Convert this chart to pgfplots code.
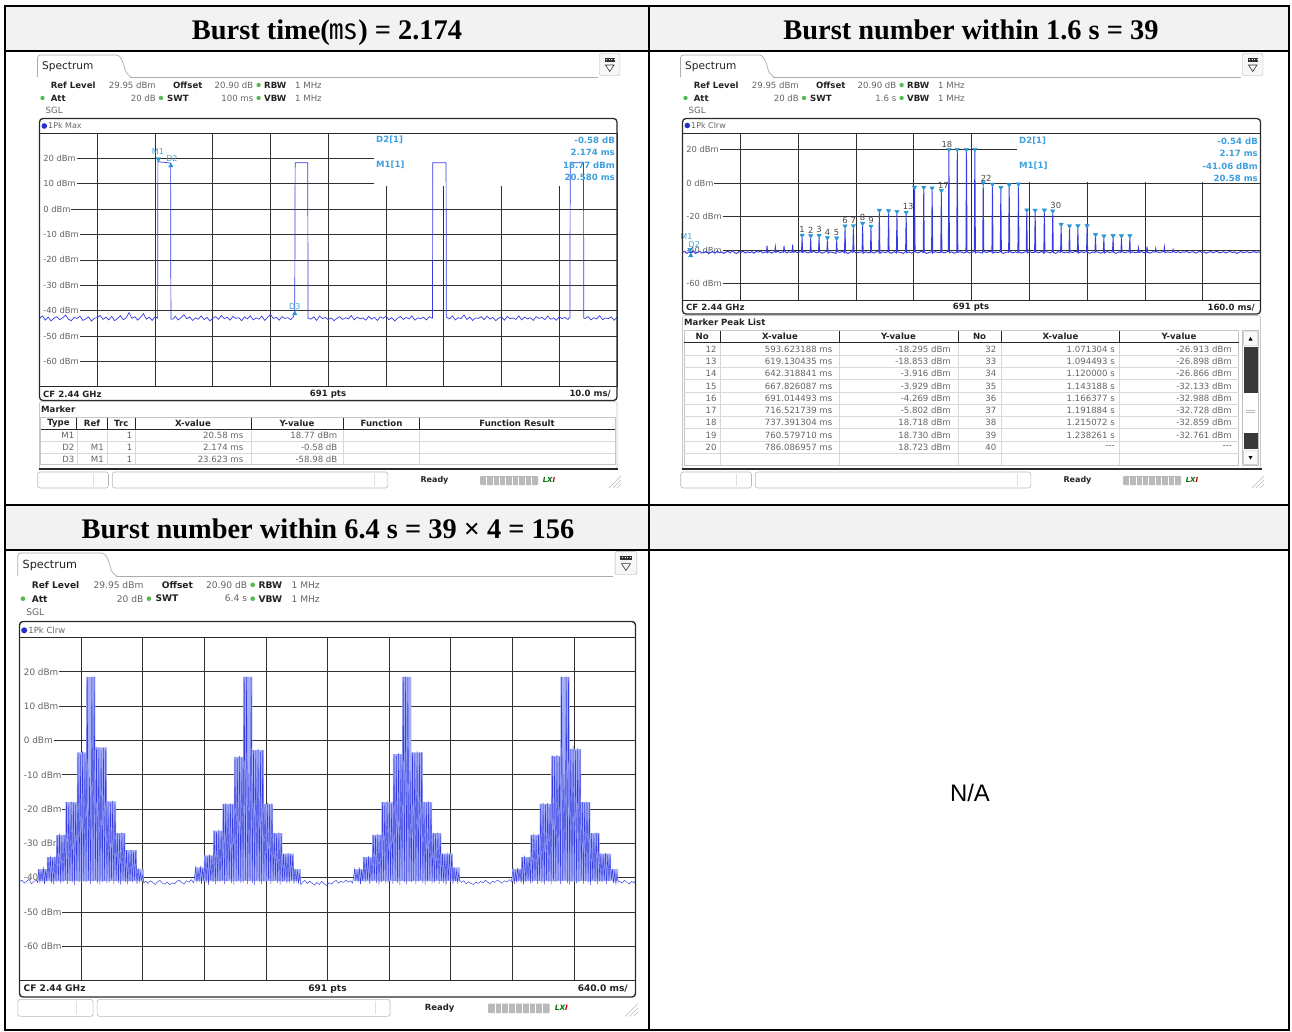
\documentclass[border=0pt]{standalone}
\usepackage{fontspec}
\setmainfont{DejaVu Sans}
\newfontfamily\hdrfont{Liberation Serif}
\newfontfamily\arialfont{Liberation Sans}
\newfontfamily\cjkfont{Noto Sans CJK JP}
\usepackage{pgfplots}
\pgfplotsset{compat=1.18}

\definecolor{tracecol}{RGB}{52,60,226}
\definecolor{markcol}{RGB}{38,150,214}
\definecolor{infocol}{RGB}{62,160,222}
\definecolor{gridcol}{RGB}{48,48,48}
\definecolor{hdrbg}{RGB}{242,242,242}
\definecolor{envcol}{RGB}{166,174,246}
\definecolor{dotgreen}{RGB}{84,186,84}
\definecolor{txtgray}{RGB}{100,100,100}
\definecolor{txtdark}{RGB}{34,34,34}
\definecolor{framecol}{RGB}{42,42,42}
\definecolor{pkdot}{RGB}{36,48,200}

\newcommand\fs[1]{\fontsize{#1}{#1}\selectfont}

\tikzset{
  bl/.style={inner sep=0pt, font=\fs{8.6}\bfseries, text=txtdark},
  rg/.style={inner sep=0pt, font=\fs{8.6}, text=txtgray},
  info/.style={inner sep=0pt, font=\fs{8.6}\bfseries, text=infocol},
  gdot/.style={fill=dotgreen, draw=none},
  ylab/.style={anchor=west, xshift=0.6bp, fill=white, inner xsep=0.8bp, inner ysep=0.7bp,
    font=\fs{8.4}, text=txtgray, execute at begin node={\hspace*{2.2bp}}},
  ylabb/.style={anchor=west, xshift=0.6bp, fill=white, inner xsep=0.9bp, inner ysep=0.8bp,
    font=\fs{8.9}, text=txtgray, execute at begin node={\hspace*{2.7bp}}},
  mlab/.style={inner sep=0pt, font=\fs{8}, text=infocol},
  pklab/.style={inner sep=0pt, font=\fs{8.4}, text=txtgray!70!black, anchor=south, yshift=4.8bp},
  hdr/.style={anchor=base, font=\hdrfont\fs{28.5}\bfseries},
}

\pgfplotsset{
  screen/.style={scale only axis, anchor=south west,
    axis line style={draw=none}, tick style={draw=none},
    xticklabels={}, yticklabels={},
    grid=major, grid style={gridcol, line width=0.75bp},
    clip=false, ymin=-70.05, ymax=29.95},
}

% instrument header: tab, softkey icon and setting lines
\newcommand\panelhead[1]{%
  \draw[gray!65, line width=0.7bp, rounded corners=3bp, fill=white]
    (37.5,77) -- (37.5,55) -- (119,55) -- (123,62) -- (126,73) -- (131,77);
  \draw[gray!65, line width=0.7bp] (130,77) -- (598,77);
  \node[anchor=west, inner sep=0pt, font=\fs{10.6}, text=txtdark] at (42,67) {Spectrum};
  \draw[gray!60, rounded corners=2bp, fill=gray!6] (599.5,53.5) rectangle (620,75.5);
  \fill[gray!40!black] (604.5,57.5) rectangle (615,61.5);
  \foreach \u in {606,608.5,611,613.5}{\fill[white] (\u,59) rectangle ++(1,1);}
  \draw[gray!40!black, line width=0.6bp] (605.5,65) -- (614,65) -- (609.75,71.5) -- cycle;
  \node[bl, anchor=west] at (50.6,85) {Ref Level};
  \node[rg, anchor=east] at (156,85) {29.95 dBm};
  \node[bl, anchor=west] at (173,85) {Offset};
  \node[rg, anchor=east] at (253.5,85) {20.90 dB};
  \fill[gdot] (258.6,85) circle (2.2bp);
  \node[bl, anchor=west] at (264,85) {RBW};
  \node[rg, anchor=west] at (295,85) {1 MHz};
  \fill[gdot] (42.5,98) circle (2.2bp);
  \node[bl, anchor=west] at (50.6,98) {Att};
  \node[rg, anchor=east] at (156,98) {20 dB};
  \fill[gdot] (161,98) circle (2.2bp);
  \node[bl, anchor=west] at (167,98) {SWT};
  \node[rg, anchor=east] at (253.5,98) {#1};
  \fill[gdot] (258.6,98) circle (2.2bp);
  \node[bl, anchor=west] at (264,98) {VBW};
  \node[rg, anchor=west] at (295,98) {1 MHz};
  \node[rg, anchor=west] at (45.5,110.5) {SGL};
}

% status line below each window
\newcommand\statusbar{%
  \draw[gray!55, line width=0.6bp, rounded corners=2.5bp] (37.7,472) rectangle (108.5,488);
  \draw[gray!25] (93,474) -- (93,486);
  \draw[gray!55, line width=0.6bp, rounded corners=2.5bp] (112.3,472) rectangle (387.8,488);
  \draw[gray!25] (374,474) -- (374,486);
  \node[bl, font=\fs{8}\bfseries] at (434.5,480) {Ready};
  \fill[gray!55, rounded corners=1bp] (480,476) rectangle (538,485);
  \foreach \u in {486.4,492.8,499.2,505.6,512,518.4,524.8,531.2}{\draw[white, line width=0.5bp] (\u,476.5) -- (\u,484.5);}
  \node[inner sep=0pt, font=\fs{7}\bfseries\itshape, text=green!45!black] at (549,480) {LX\textcolor{red!70!black}{I}};
  \foreach \d in {4,8,12}{\draw[gray!55, line width=0.6bp] (621-\d,488) -- (621,488-\d);}
}

\begin{document}
\begin{tikzpicture}
\useasboundingbox (0bp,0bp) rectangle (1292bp,-1032bp);

\begin{scope}[x=1bp,y=-1bp]
  \fill[hdrbg] (5,6) rectangle (1289,51);
  \fill[hdrbg] (5,505) rectangle (1289,550);
  \node[hdr] at (327,39.5) {Burst time({\mdseries\cjkfont ㎳}) = 2.174};
  \node[hdr] at (971,39.5) {Burst number within 1.6 s = 39};
  \node[hdr] at (328,538.5) {Burst number within 6.4 s = 39 × 4 = 156};
  \node[font=\arialfont\fs{24}] at (970,793) {N/A};
  \panelhead{100 ms}
  \begin{scope}[xshift=643bp]\panelhead{1.6 s}\end{scope}
  \begin{scope}[shift={(-22.2bp,-494.5bp)}, scale=1.063, every node/.append style={transform shape}]\panelhead{6.4 s}\end{scope}
\end{scope}

% ---------- sweep 100 ms ----------
\begin{axis}[screen, at={(39.5bp,-386.7bp)}, width=577.5bp, height=253.4bp,
  xmin=0, xmax=100, xtick={0,10,...,100}, ytick={-60,-50,...,20}]
  \fill[white] (axis cs:58,9.2) rectangle (axis cs:100,29.95);
  \node[ylab] at (axis cs:0,20) {20 dBm};
  \node[ylab] at (axis cs:0,10) {10 dBm};
  \node[ylab] at (axis cs:0,0) {0 dBm};
  \node[ylab] at (axis cs:0,-10) {-10 dBm};
  \node[ylab] at (axis cs:0,-20) {-20 dBm};
  \node[ylab] at (axis cs:0,-30) {-30 dBm};
  \node[ylab] at (axis cs:0,-40) {-40 dBm};
  \node[ylab] at (axis cs:0,-50) {-50 dBm};
  \node[ylab] at (axis cs:0,-60) {-60 dBm};
  \addplot[draw=tracecol, line width=0.7bp] coordinates {
  (0,-43.2) (0.5,-42.1) (1,-43.8) (1.5,-42.6) (2,-44.1) (2.5,-43.0) (3,-42.4) (3.5,-43.6) (4,-42.9) (4.5,-41.8)
  (5,-43.4) (5.5,-44.0) (6,-42.7) (6.5,-43.1) (7,-42.2) (7.5,-43.9) (8,-43.3) (8.5,-42.5) (9,-44.2) (9.5,-43.0)
  (10,-42.8) (10.5,-41.9) (11,-43.5) (11.5,-42.6) (12,-43.7) (12.5,-42.3) (13,-44.0) (13.5,-43.2) (14,-42.0) (14.5,-43.6)
  (15,-42.9) (15.5,-40.8) (16,-43.1) (16.5,-42.4) (17,-43.8) (17.5,-42.7) (18,-41.2) (18.5,-43.4) (19,-42.6) (19.5,-43.9)
  (20,-42.5) (20.45,-43.0) (20.5,18.77) (21.6,18.5) (22.7,18.19) (22.76,-43.4)
  (23.2,-43.3) (23.5,-42.2) (24,-43.7) (24.5,-42.8) (25,-41.6) (25.5,-43.2) (26,-42.5) (26.5,-43.9) (27,-42.9) (27.5,-43.4)
  (28,-42.1) (28.5,-43.6) (29,-42.7) (29.5,-44.1) (30,-43.0) (30.5,-42.4) (31,-43.5) (31.5,-41.9) (32,-43.2) (32.5,-42.6)
  (33,-43.8) (33.5,-42.3) (34,-43.1) (34.5,-42.8) (35,-44.0) (35.5,-42.5) (36,-43.3) (36.5,-42.0) (37,-43.7) (37.5,-42.9)
  (38,-43.4) (38.5,-42.2) (39,-43.9) (39.5,-42.7) (40,-41.5) (40.5,-43.2) (41,-42.6) (41.5,-43.8) (42,-42.4) (42.5,-43.1)
  (43,-42.8) (43.5,-43.6) (44.0,-42.3) (44.2,-40.2) (44.27,18.3) (46.45,18.3) (46.5,-43.0)
  (47,-43.4) (47.5,-42.5) (48,-43.9) (48.5,-42.1) (49,-43.2) (49.5,-42.7) (50,-43.6) (50.5,-42.9) (51,-44.0) (51.5,-43.1)
  (52,-42.4) (52.5,-43.5) (53,-42.8) (53.5,-43.3) (54,-42.0) (54.5,-43.7) (55,-42.6) (55.5,-43.2) (56,-42.9) (56.5,-43.8)
  (57,-42.3) (57.5,-43.4) (58,-42.7) (58.5,-43.9) (59,-42.5) (59.5,-43.1) (60,-42.2) (60.5,-43.6) (61,-42.8) (61.5,-44.1)
  (62,-43.0) (62.5,-42.4) (63,-43.5) (63.5,-42.7) (64,-43.3) (64.5,-42.1) (65,-43.8) (65.5,-42.9) (66,-43.2) (66.5,-42.6)
  (67,-43.7) (67.5,-42.4) (68.0,-43.1) (68.05,-42.9) (68.1,18.3) (70.4,18.3) (70.45,-42.6)
  (71,-43.3) (71.5,-42.1) (72,-43.7) (72.5,-42.8) (73,-43.2) (73.5,-41.7) (74,-43.5) (74.5,-42.6) (75,-43.9) (75.5,-42.9)
  (76,-43.1) (76.5,-42.4) (77,-43.6) (77.5,-42.2) (78,-43.4) (78.5,-42.7) (79,-44.0) (79.5,-43.0) (80,-42.5) (80.5,-43.8)
  (81,-42.3) (81.5,-43.2) (82,-42.9) (82.5,-43.5) (83,-42.1) (83.5,-43.7) (84,-42.6) (84.5,-43.3) (85,-42.8) (85.5,-43.9)
  (86,-42.4) (86.5,-43.1) (87,-42.7) (87.5,-43.6) (88,-42.2) (88.5,-43.4) (89,-42.9) (89.5,-43.8) (90,-42.5) (90.5,-43.2)
  (91,-42.7) (91.5,-43.5) (91.85,-42.6) (91.9,18.3) (94.2,18.3) (94.25,-43.0)
  (94.5,-43.1) (95,-42.4) (95.5,-43.7) (96,-42.8) (96.5,-43.3) (97,-42.0) (97.5,-43.6) (98,-42.9) (98.5,-43.2) (99,-42.5)
  (99.5,-43.8) (100,-42.7)};
  % M1 (down), D2 and D3 (up)
  \addplot[only marks, mark=triangle*, mark size=2.6bp, color=markcol,
    mark options={yshift=2.6bp, rotate=180, fill=markcol}] coordinates {(20.58,18.77)};
  \addplot[only marks, mark=triangle*, mark size=2.6bp, color=markcol,
    mark options={yshift=-2.6bp, fill=markcol}] coordinates {(22.754,18.19) (44.203,-40.21)};
  \node[mlab, anchor=south] at (axis cs:20.58,18.77) [yshift=7bp, xshift=-0.5bp] {M1};
  \node[mlab, anchor=south] at (axis cs:22.754,18.19) [yshift=1.5bp, xshift=1bp] {D2};
  \node[mlab, anchor=south] at (axis cs:44.203,-40.21) [yshift=1.5bp] {D3};
\end{axis}

% ---------- sweep 1.6 s ----------
\begin{axis}[screen, at={(682.5bp,-300.7bp)}, width=578bp, height=167.5bp,
  xmin=0, xmax=1600, xtick={0,160,...,1600}, ytick={-60,-40,...,20}]
  \fill[white] (axis cs:926,0.8) rectangle (axis cs:1600,29.95);
  \node[ylab] at (axis cs:0,20) {20 dBm};
  \node[ylab] at (axis cs:0,0) {0 dBm};
  \node[ylab] at (axis cs:0,-20) {-20 dBm};
  \node[ylab] at (axis cs:0,-40) {-40 dBm};
  \node[ylab] at (axis cs:0,-60) {-60 dBm};
  \addplot[draw=tracecol, line width=0.95bp] coordinates {
  (0,-41.2) (6,-40.6) (12,-41.8) (18,-40.9) (24,-41.5) (30,-40.3) (36,-41.9) (42,-41.0) (48,-40.7) (54,-41.6)
  (60,-41.3) (66,-40.5) (72,-42.0) (78,-41.1) (84,-40.8) (90,-41.7) (96,-40.4) (102,-41.4) (108,-40.9) (114,-41.8)
  (120,-41.0) (126,-40.6) (132,-41.5) (138,-40.2) (144,-41.3) (150,-41.9) (156,-40.7) (162,-41.2) (168,-40.5) (174,-41.6)
  (180,-40.9) (186,-41.4) (192,-40.8) (198,-41.7) (204,-40.6) (210,-41.1) (216,-40.4) (222,-41.5) (228,-41.0)
  (232.5,-41.0) (234,-37.2) (235.5,-41.3) (240,-40.7) (246,-41.6) (252,-41.0)
  (255.5,-40.8) (257,-38.0) (258.5,-41.2) (264,-40.5) (270,-41.4) (276,-40.9)
  (279.5,-41.1) (281,-37.4) (282.5,-40.6) (288,-41.5) (294,-40.8) (300,-41.2)
  (303.5,-40.9) (305,-36.6) (306.5,-41.3) (312,-40.6) (318,-41.4) (324,-40.9)
  (329.5,-41.0) (331.0,-32.5) (332.5,-41.2) (339,-40.7) (347,-41.5)
  (353.3,-40.9) (354.8,-32.8) (356.3,-41.3) (363,-40.6) (371,-41.4)
  (376.5,-41.1) (378.0,-32.6) (379.5,-40.8) (386,-41.7) (394,-41.0)
  (399.7,-40.5) (401.2,-34.0) (402.7,-41.6) (409,-40.9) (417,-41.3)
  (425.2,-41.8) (426.7,-34.2) (428.2,-40.7) (435,-41.2) (443,-40.6)
  (448.4,-41.4) (449.9,-27.0) (451.4,-41.0) (458,-41.9) (466,-40.8)
  (471.5,-41.2) (473.0,-26.8) (474.5,-40.6) (481,-41.5) (490,-41.1)
  (497.1,-40.9) (498.6,-25.4) (500.1,-41.7) (507,-40.8) (514,-41.4)
  (520.2,-41.3) (521.7,-27.1) (523.2,-40.9) (530,-41.6) (537,-40.7)
  (543.4,-41.0) (544.9,-17.6) (546.4,-41.8) (553,-40.9) (562,-41.3)
  (568.9,-40.6) (570.4,-17.9) (571.9,-41.2) (578,-41.7) (586,-40.8)
  (592.1,-41.5) (593.623,-18.295) (595.1,-40.9) (603,-41.2) (611,-41.8)
  (617.6,-40.7) (619.130,-18.853) (620.6,-41.4) (627,-40.9) (634,-41.6)
  (640.8,-41.1) (642.319,-3.916) (643.8,-40.8) (652,-41.5) (660,-40.6)
  (666.3,-41.3) (667.826,-3.929) (669.3,-41.0) (675,-41.8) (683,-41.2)
  (689.5,-40.9) (691.014,-4.269) (692.5,-41.6) (700,-40.7) (708,-41.3)
  (715.0,-41.2) (716.522,-5.802) (718.0,-40.8) (724,-41.5) (730,-41.0)
  (735.9,-40.6) (737.391,18.718) (738.9,-41.4) (745,-40.9) (752,-41.7)
  (759.1,-41.0) (760.580,18.730) (762.1,-41.2) (770,-40.8) (778,-41.5)
  (784.6,-41.3) (786.087,18.723) (787.6,-40.7) (794,-41.6) (801,-41.1)
  (807.8,-40.8) (809.3,18.7) (810.8,-41.5) (817,-40.9) (824,-41.3)
  (831.0,-41.6) (832.5,-1.2) (834.0,-40.8) (842,-41.2) (850,-40.6)
  (856.5,-41.0) (858.0,-2.0) (859.5,-41.7) (866,-40.9) (873,-41.4)
  (879.7,-40.7) (881.2,-4.0) (882.7,-41.3) (889,-41.8) (896,-41.0)
  (902.8,-41.2) (904.3,-2.4) (905.8,-40.6) (914,-41.5) (922,-40.9)
  (928.4,-41.4) (929.9,-1.9) (931.4,-40.9) (938,-41.6) (945,-41.1)
  (951.5,-40.8) (953.0,-17.4) (954.5,-41.5) (961,-40.7) (968,-41.3)
  (974.7,-41.1) (976.2,-17.6) (977.7,-40.8) (986,-41.4) (994,-40.6)
  (1000.2,-41.7) (1001.7,-17.5) (1003.2,-41.0) (1010,-40.9) (1017,-41.5)
  (1023.4,-40.9) (1024.9,-18.0) (1026.4,-41.3) (1033,-41.8) (1040,-40.8)
  (1046.6,-41.2) (1048.1,-26.0) (1049.6,-40.7) (1056,-41.4) (1063,-41.0)
  (1069.8,-41.5) (1071.304,-26.913) (1072.8,-40.9) (1080,-41.2) (1088,-40.6)
  (1093.0,-41.0) (1094.493,-26.898) (1096.0,-41.6) (1104,-40.8) (1112,-41.3)
  (1118.5,-40.7) (1120.000,-26.866) (1121.5,-41.2) (1128,-41.7) (1135,-40.9)
  (1141.7,-41.4) (1143.188,-32.133) (1144.7,-40.8) (1151,-41.1) (1158,-41.6)
  (1164.9,-41.0) (1166.377,-32.988) (1167.9,-41.5) (1175,-40.7) (1183,-41.3)
  (1190.4,-40.8) (1191.884,-32.728) (1193.4,-41.2) (1200,-41.8) (1207,-40.9)
  (1213.6,-41.3) (1215.072,-32.859) (1216.6,-40.6) (1223,-41.4) (1230,-41.0)
  (1236.8,-40.9) (1238.261,-32.761) (1239.8,-41.5) (1246,-40.8) (1254,-41.4)
  (1260.5,-41.0) (1262,-38.6) (1263.5,-41.3) (1271,-40.7) (1278,-41.5)
  (1284.5,-40.9) (1286,-37.8) (1287.5,-41.2) (1295,-41.6) (1302,-40.8)
  (1308.5,-41.1) (1310,-39.0) (1311.5,-40.7) (1319,-41.3) (1326,-41.0)
  (1332.5,-40.6) (1334,-38.2) (1335.5,-41.4) (1343,-40.9) (1350,-41.2)
  (1356.5,-41.0) (1358,-39.5) (1359.5,-40.8)
  (1366,-41.3) (1372,-40.7) (1378,-41.5) (1384,-40.9) (1390,-41.1) (1396,-40.6) (1402,-41.4) (1408,-41.0) (1414,-40.8) (1420,-41.6)
  (1426,-41.2) (1432,-40.5) (1438,-41.3) (1444,-40.9) (1450,-41.7) (1456,-41.1) (1462,-40.7) (1468,-41.4) (1474,-41.0) (1480,-40.6)
  (1486,-41.5) (1492,-41.2) (1498,-40.8) (1504,-41.6) (1510,-41.0) (1516,-40.7) (1522,-41.3) (1528,-40.9) (1534,-41.8) (1540,-41.2)
  (1546,-40.6) (1552,-41.4) (1558,-41.0) (1564,-40.8) (1570,-41.5) (1576,-41.1) (1582,-40.7) (1588,-41.3) (1594,-40.9) (1600,-41.2)};
  % peak list markers
  \addplot[only marks, mark=triangle*, mark size=2.5bp, color=markcol,
    mark options={yshift=2.5bp, rotate=180, fill=markcol}] coordinates {
  (331.0,-32.5) (354.8,-32.8) (378.0,-32.6) (401.2,-34.0) (426.7,-34.2) (449.9,-27.0) (473.0,-26.8) (498.6,-25.4)
  (521.7,-27.1) (544.9,-17.6) (570.4,-17.9) (593.623,-18.295) (619.130,-18.853) (642.319,-3.916) (667.826,-3.929)
  (691.014,-4.269) (716.522,-5.802) (737.391,18.718) (760.580,18.730) (786.087,18.723) (809.3,18.7) (832.5,-1.2)
  (858.0,-2.0) (881.2,-4.0) (904.3,-2.4) (929.9,-1.9) (953.0,-17.4) (976.2,-17.6) (1001.7,-17.5) (1024.9,-18.0)
  (1048.1,-26.0) (1071.304,-26.913) (1094.493,-26.898) (1120.000,-26.866) (1143.188,-32.133) (1166.377,-32.988)
  (1191.884,-32.728) (1215.072,-32.859) (1238.261,-32.761)};
  \addplot[only marks, mark=triangle*, mark size=2.5bp, color=markcol,
    mark options={yshift=2.5bp, rotate=180, fill=markcol}] coordinates {(20.58,-41.06)};
  \addplot[only marks, mark=triangle*, mark size=2.5bp, color=markcol,
    mark options={yshift=-2.5bp, fill=markcol}] coordinates {(22.75,-41.60)};
  \node[mlab, anchor=south] at (axis cs:20.58,-41.06) [yshift=12bp, xshift=-3.5bp] {M1};
  \node[mlab, anchor=south] at (axis cs:22.75,-41.60) [yshift=5.5bp, xshift=3.5bp] {D2};
  \node[pklab] at (axis cs:331.0,-32.5) {1};
  \node[pklab] at (axis cs:354.8,-32.8) {2};
  \node[pklab] at (axis cs:378.0,-32.6) {3};
  \node[pklab] at (axis cs:401.2,-34.0) {4};
  \node[pklab] at (axis cs:426.7,-34.2) {5};
  \node[pklab] at (axis cs:449.9,-27.0) {6};
  \node[pklab] at (axis cs:473.0,-26.8) {7};
  \node[pklab] at (axis cs:498.6,-25.4) {8};
  \node[pklab] at (axis cs:521.7,-27.1) {9};
  \node[pklab] at (axis cs:619.130,-18.853) [xshift=2bp] {13};
  \node[pklab] at (axis cs:716.522,-5.802) [xshift=2bp] {17};
  \node[pklab] at (axis cs:737.391,18.718) [xshift=-2bp, yshift=-1bp] {18};
  \node[pklab] at (axis cs:832.5,-1.2) [xshift=3bp, yshift=-1.5bp] {22};
  \node[pklab] at (axis cs:1024.9,-18.0) [xshift=3bp] {30};
\end{axis}

% ---------- sweep 6.4 s ----------
\begin{axis}[screen, at={(19.5bp,-980.7bp)}, width=616bp, height=343bp,
  xmin=0, xmax=6400, xtick={0,640,...,6400}, ytick={-60,-50,...,20}]
  \node[ylabb] at (axis cs:0,20) {20 dBm};
  \node[ylabb] at (axis cs:0,10) {10 dBm};
  \node[ylabb] at (axis cs:0,0) {0 dBm};
  \node[ylabb] at (axis cs:0,-10) {-10 dBm};
  \node[ylabb] at (axis cs:0,-20) {-20 dBm};
  \node[ylabb] at (axis cs:0,-30) {-30 dBm};
  \node[ylabb] at (axis cs:0,-40) {-40 dBm};
  \node[ylabb] at (axis cs:0,-50) {-50 dBm};
  \node[ylabb] at (axis cs:0,-60) {-60 dBm};
  % burst group envelopes
  \addplot[fill=envcol, draw=none] coordinates {
  (190,-41) (190,-37.5) (284,-37.5) (284,-34) (380,-34) (380,-27.5) (476,-27.5) (476,-18) (596,-18) (596,-3.5)
  (692,-3.5) (692,18.5) (788,18.5) (788,-2) (908,-2) (908,-17.8) (1004,-17.8) (1004,-27) (1100,-27) (1100,-32)
  (1220,-32) (1220,-37.5) (1292,-37.5) (1292,-41)};
  \addplot[fill=envcol, draw=none] coordinates {
  (1821,-41) (1821,-37) (1915,-37) (1915,-33.5) (2011,-33.5) (2011,-26.3) (2107,-26.3) (2107,-18.5) (2227,-18.5) (2227,-4.8)
  (2323,-4.8) (2323,18.5) (2419,18.5) (2419,-2.8) (2539,-2.8) (2539,-18.5) (2635,-18.5) (2635,-27) (2731,-27) (2731,-33)
  (2851,-33) (2851,-37.5) (2923,-37.5) (2923,-41)};
  \addplot[fill=envcol, draw=none] coordinates {
  (3473,-41) (3473,-37.5) (3567,-37.5) (3567,-34) (3663,-34) (3663,-27.5) (3759,-27.5) (3759,-18) (3879,-18) (3879,-4)
  (3975,-4) (3975,18.5) (4071,18.5) (4071,-3.5) (4191,-3.5) (4191,-18) (4287,-18) (4287,-27) (4383,-27) (4383,-33)
  (4503,-33) (4503,-37) (4575,-37) (4575,-41)};
  \addplot[fill=envcol, draw=none] coordinates {
  (5118,-41) (5118,-37.5) (5212,-37.5) (5212,-34) (5308,-34) (5308,-27.5) (5404,-27.5) (5404,-18.5) (5524,-18.5) (5524,-4.5)
  (5620,-4.5) (5620,18.5) (5716,18.5) (5716,-2.5) (5836,-2.5) (5836,-18) (5932,-18) (5932,-27) (6028,-27) (6028,-33)
  (6148,-33) (6148,-37.5) (6220,-37.5) (6220,-41)};
  \addplot[draw=tracecol, line width=0.45bp] coordinates {
  (0,-41.2) (25,-40.7) (50,-41.6) (75,-41.0) (100,-40.5) (125,-41.8) (150,-41.1) (175,-40.8) (188,-41.4)
  (200,-37.6) (212,-41.3) (224,-38.3) (236,-40.8) (248,-36.9) (260,-41.9) (272,-37.8) (284,-41.1)
  (296,-34.0) (308,-40.6) (320,-33.6) (332,-41.6) (344,-34.3) (356,-42.0) (368,-33.8) (380,-41.2)
  (392,-27.6) (404,-40.9) (416,-27.2) (428,-41.7) (440,-27.9) (452,-41.4) (464,-27.5) (476,-40.7)
  (488,-18.0) (500,-41.8) (512,-18.4) (524,-41.0) (536,-17.8) (548,-41.5) (560,-18.2) (572,-42.1) (584,-18.6) (596,-40.8)
  (608,-3.6) (620,-41.3) (632,-4.1) (644,-41.9) (656,-3.2) (668,-41.1) (680,-3.9) (692,-41.3)
  (704,18.5) (716,-40.8) (728,-10.8) (740,-41.9) (752,18.5) (764,-41.1) (776,18.6) (788,-40.6)
  (800,-1.9) (812,-41.6) (824,-2.3) (836,-42.0) (848,-3.0) (860,-41.2) (872,-2.2) (884,-40.9) (896,-2.6) (908,-41.7)
  (920,-17.8) (932,-41.4) (944,-18.1) (956,-40.7) (968,-17.6) (980,-41.8) (992,-18.3) (1004,-41.0)
  (1016,-27.0) (1028,-41.5) (1040,-27.3) (1052,-42.1) (1064,-26.8) (1076,-40.8) (1088,-27.1) (1100,-41.3)
  (1112,-32.0) (1124,-41.9) (1136,-32.4) (1148,-41.1) (1160,-31.9) (1172,-41.3) (1184,-32.6) (1196,-40.8) (1208,-32.2) (1220,-41.9)
  (1232,-37.2) (1244,-41.1) (1256,-38.6) (1268,-40.6) (1280,-39.3) (1292,-41.6)
  (1310,-41.0) (1335,-41.7) (1360,-40.9) (1385,-41.4) (1410,-42.0) (1435,-41.2) (1460,-40.8) (1485,-41.6) (1510,-41.9) (1535,-41.3)
  (1560,-42.1) (1585,-41.5) (1610,-41.8) (1635,-41.1) (1660,-40.7) (1685,-41.4) (1710,-41.9) (1735,-40.9) (1760,-41.3) (1785,-40.6) (1810,-41.5)
  (1831,-37.0) (1843,-41.4) (1855,-38.1) (1867,-40.7) (1879,-36.6) (1891,-41.8) (1903,-37.4) (1915,-41.0)
  (1927,-33.5) (1939,-41.5) (1951,-33.9) (1963,-42.1) (1975,-33.2) (1987,-40.8) (1999,-33.7) (2011,-41.3)
  (2023,-26.3) (2035,-41.9) (2047,-26.7) (2059,-41.1) (2071,-26.0) (2083,-41.3) (2095,-26.5) (2107,-40.8)
  (2119,-18.5) (2131,-41.9) (2143,-18.2) (2155,-41.1) (2167,-18.8) (2179,-40.6) (2191,-18.4) (2203,-41.6) (2215,-18.7) (2227,-42.0)
  (2239,-4.8) (2251,-41.2) (2263,-5.2) (2275,-40.9) (2287,-4.5) (2299,-41.7) (2311,-5.0) (2323,-41.4)
  (2335,18.5) (2347,-40.7) (2359,18.6) (2371,-41.8) (2383,-9.6) (2395,-41.0) (2407,18.5) (2419,-41.5)
  (2431,-2.8) (2443,-42.1) (2455,-3.1) (2467,-40.8) (2479,-2.5) (2491,-41.3) (2503,-3.4) (2515,-41.9) (2527,-2.9) (2539,-41.1)
  (2551,-18.5) (2563,-41.3) (2575,-18.2) (2587,-40.8) (2599,-18.8) (2611,-41.9) (2623,-18.4) (2635,-41.1)
  (2647,-27.0) (2659,-40.6) (2671,-27.4) (2683,-41.6) (2695,-26.8) (2707,-42.0) (2719,-27.2) (2731,-41.2)
  (2743,-33.0) (2755,-40.9) (2767,-33.4) (2779,-41.7) (2791,-32.8) (2803,-41.4) (2815,-33.2) (2827,-40.7) (2839,-33.5) (2851,-41.8)
  (2863,-37.5) (2875,-41.0) (2887,-38.2) (2899,-41.5) (2911,-39.0) (2923,-42.1)
  (2940,-41.3) (2965,-40.8) (2990,-41.7) (3015,-41.0) (3040,-41.6) (3065,-42.2) (3090,-41.4) (3115,-42.0) (3140,-41.1) (3165,-41.8)
  (3190,-42.3) (3215,-41.5) (3240,-41.9) (3265,-41.2) (3290,-40.8) (3315,-41.6) (3340,-41.0) (3365,-41.4) (3390,-40.7) (3415,-41.3) (3440,-40.9) (3460,-41.6)
  (3483,-37.5) (3495,-40.8) (3507,-38.4) (3519,-41.3) (3531,-37.0) (3543,-41.9) (3555,-37.8) (3567,-41.1)
  (3579,-34.0) (3591,-41.3) (3603,-34.4) (3615,-40.8) (3627,-33.7) (3639,-41.9) (3651,-34.2) (3663,-41.1)
  (3675,-27.5) (3687,-40.6) (3699,-27.9) (3711,-41.6) (3723,-27.2) (3735,-42.0) (3747,-27.6) (3759,-41.2)
  (3771,-18.0) (3783,-40.9) (3795,-18.3) (3807,-41.7) (3819,-17.7) (3831,-41.4) (3843,-18.2) (3855,-40.7) (3867,-18.5) (3879,-41.8)
  (3891,-4.0) (3903,-41.0) (3915,-4.4) (3927,-41.5) (3939,-3.7) (3951,-42.1) (3963,-4.2) (3975,-40.8)
  (3987,18.5) (3999,-41.3) (4011,18.6) (4023,-41.9) (4035,18.5) (4047,-41.1) (4059,-8.9) (4071,-41.3)
  (4083,-3.5) (4095,-40.8) (4107,-3.8) (4119,-41.9) (4131,-3.2) (4143,-41.1) (4155,-3.6) (4167,-40.6) (4179,-3.4) (4191,-41.6)
  (4203,-18.0) (4215,-42.0) (4227,-18.3) (4239,-41.2) (4251,-17.8) (4263,-40.9) (4275,-18.2) (4287,-41.7)
  (4299,-27.0) (4311,-41.4) (4323,-27.3) (4335,-40.7) (4347,-26.8) (4359,-41.8) (4371,-27.2) (4383,-41.0)
  (4395,-33.0) (4407,-41.5) (4419,-33.3) (4431,-42.1) (4443,-32.7) (4455,-40.8) (4467,-33.1) (4479,-41.3) (4491,-33.4) (4503,-41.9)
  (4515,-37.0) (4527,-41.1) (4539,-38.0) (4551,-41.3) (4563,-38.8) (4575,-40.8)
  (4590,-41.4) (4615,-40.9) (4640,-41.8) (4665,-41.2) (4690,-41.6) (4715,-42.0) (4740,-41.3) (4765,-41.7) (4790,-41.1) (4815,-41.5)
  (4840,-40.8) (4865,-41.3) (4890,-41.9) (4915,-41.0) (4940,-41.4) (4965,-40.7) (4990,-41.2) (5015,-41.6) (5040,-40.9) (5065,-41.3) (5090,-40.6) (5110,-41.2)
  (5128,-37.6) (5140,-41.9) (5152,-38.3) (5164,-41.1) (5176,-37.1) (5188,-40.6) (5200,-37.9) (5212,-41.6)
  (5224,-34.0) (5236,-42.0) (5248,-33.6) (5260,-41.2) (5272,-34.3) (5284,-40.9) (5296,-33.9) (5308,-41.7)
  (5320,-27.5) (5332,-41.4) (5344,-27.1) (5356,-40.7) (5368,-27.8) (5380,-41.8) (5392,-27.4) (5404,-41.0)
  (5416,-18.5) (5428,-41.5) (5440,-18.2) (5452,-42.1) (5464,-18.7) (5476,-40.8) (5488,-18.3) (5500,-41.3) (5512,-18.6) (5524,-41.9)
  (5536,-4.5) (5548,-41.1) (5560,-4.9) (5572,-41.3) (5584,-4.2) (5596,-40.8) (5608,-4.7) (5620,-41.9)
  (5632,18.5) (5644,-41.1) (5656,-9.8) (5668,-40.6) (5680,18.6) (5692,-41.6) (5704,18.5) (5716,-42.0)
  (5728,-2.5) (5740,-41.2) (5752,-1.5) (5764,-40.9) (5776,-2.9) (5788,-41.7) (5800,-2.2) (5812,-41.4) (5824,-2.7) (5836,-40.7)
  (5848,-18.0) (5860,-41.8) (5872,-18.3) (5884,-41.0) (5896,-17.7) (5908,-41.5) (5920,-18.2) (5932,-42.1)
  (5944,-27.0) (5956,-40.8) (5968,-27.4) (5980,-41.3) (5992,-26.8) (6004,-41.9) (6016,-27.2) (6028,-41.1)
  (6040,-33.0) (6052,-41.3) (6064,-33.3) (6076,-40.8) (6088,-32.8) (6100,-41.9) (6112,-33.2) (6124,-41.1) (6136,-33.5) (6148,-40.6)
  (6160,-37.5) (6172,-41.6) (6184,-38.2) (6196,-42.0) (6208,-38.9) (6220,-41.2)
  (6235,-41.0) (6260,-41.6) (6285,-40.8) (6310,-41.3) (6335,-41.9) (6360,-41.1) (6385,-41.5) (6400,-40.9)};
\end{axis}

\begin{scope}[x=1bp,y=-1bp]
  % outer table rules
  \draw[line width=1.8bp] (5,6) rectangle (1289,1030);
  \draw[line width=1.8bp] (5,51) -- (1289,51) (5,505) -- (1289,505) (5,550) -- (1289,550) (649,6) -- (649,1030);

  % window frames
  \draw[framecol, line width=1.3bp, rounded corners=3.5bp] (39.5,118.5) rectangle (617,400.5);
  \draw[framecol, line width=0.8bp] (39.5,133.3) -- (617,133.3) (39.5,386.7) -- (617,386.7);
  \draw[framecol, line width=1.3bp, rounded corners=3.5bp] (682.5,118.5) rectangle (1260.5,314);
  \draw[framecol, line width=0.8bp] (682.5,133.2) -- (1260.5,133.2) (682.5,300.7) -- (1260.5,300.7);
  \draw[framecol, line width=1.4bp, rounded corners=3.5bp] (19.5,621.5) rectangle (635.5,997);
  \draw[framecol, line width=0.8bp] (19.5,637.7) -- (635.5,637.7) (19.5,980.7) -- (635.5,980.7);

  % trace labels
  \fill[pkdot] (44.3,126) circle (2.8bp);
  \node[rg, anchor=west, font=\fs{8}] at (48,126) {1Pk Max};
  \fill[pkdot] (687.3,125.5) circle (2.8bp);
  \node[rg, anchor=west, font=\fs{8}] at (691,125.5) {1Pk Clrw};
  \fill[pkdot] (24.2,630.3) circle (3bp);
  \node[rg, anchor=west, font=\fs{8.5}] at (28.3,630.3) {1Pk Clrw};

  % footer of each diagram
  \node[bl, anchor=west] at (43,394) {CF 2.44 GHz};
  \node[bl] at (328,394) {691 pts};
  \node[bl, anchor=east] at (611,394) {10.0 ms/};
  \node[bl, anchor=west] at (686,307.5) {CF 2.44 GHz};
  \node[bl] at (971,307.5) {691 pts};
  \node[bl, anchor=east] at (1255,307.5) {160.0 ms/};
  \node[bl, anchor=west, font=\fs{9.1}\bfseries] at (23.5,988.6) {CF 2.44 GHz};
  \node[bl, font=\fs{9.1}\bfseries] at (327.5,988.6) {691 pts};
  \node[bl, anchor=east, font=\fs{9.1}\bfseries] at (628,988.6) {640.0 ms/};

  % marker readouts
  \node[info, anchor=west] at (376,140) {D2[1]};
  \node[info, anchor=east] at (615,140) {-0.58 dB};
  \node[info, anchor=east] at (615,152.7) {2.174 ms};
  \node[info, anchor=west] at (376,165.3) {M1[1]};
  \node[info, anchor=east] at (615,165.3) {18.77 dBm};
  \node[info, anchor=east] at (615,177.7) {20.580 ms};
  \node[info, anchor=west] at (1019,141) {D2[1]};
  \node[info, anchor=east] at (1258,141) {-0.54 dB};
  \node[info, anchor=east] at (1258,153.5) {2.17 ms};
  \node[info, anchor=west] at (1019,166) {M1[1]};
  \node[info, anchor=east] at (1258,166) {-41.06 dBm};
  \node[info, anchor=east] at (1258,178.5) {20.58 ms};

  % marker table (100 ms sweep)
  \draw[gray!45, line width=0.6bp, rounded corners=2bp] (39.5,401.5) rectangle (617,468.5);
  \draw[framecol, line width=1.6bp] (38.5,469.2) -- (618,469.2);
  \node[bl, anchor=west] at (41,409.3) {Marker};
  \draw[gray!45, line width=0.6bp] (40.5,416.8) rectangle (614.8,464.5);
  \draw[gray!30] (40.5,441.2) -- (614.8,441.2) (40.5,453.3) -- (614.8,453.3);
  \foreach \u in {76.7,107.3,135.3,250.9,343.5,419.6}{
    \draw[gray!30] (\u,429.3) -- (\u,464.5);
    \draw[gray!30!black, line width=0.7bp] (\u,417.5) -- (\u,429);}
  \draw[gray!30!black, line width=0.8bp] (40.5,429.3) -- (614.8,429.3);
  \node[bl] at (58.5,423) {Type};
  \node[bl] at (92,423) {Ref};
  \node[bl] at (121.3,423) {Trc};
  \node[bl] at (193,423) {X-value};
  \node[bl] at (297,423) {Y-value};
  \node[bl] at (381.5,423) {Function};
  \node[bl] at (517,423) {Function Result};
  \node[rg, anchor=east] at (74.5,435.3) {M1};
  \node[rg, anchor=east] at (132.5,435.3) {1};
  \node[rg, anchor=east] at (243.5,435.3) {20.58 ms};
  \node[rg, anchor=east] at (337.5,435.3) {18.77 dBm};
  \node[rg, anchor=east] at (74.5,447.5) {D2};
  \node[rg, anchor=east] at (104,447.5) {M1};
  \node[rg, anchor=east] at (132.5,447.5) {1};
  \node[rg, anchor=east] at (243.5,447.5) {2.174 ms};
  \node[rg, anchor=east] at (337.5,447.5) {-0.58 dB};
  \node[rg, anchor=east] at (74.5,459.5) {D3};
  \node[rg, anchor=east] at (104,459.5) {M1};
  \node[rg, anchor=east] at (132.5,459.5) {1};
  \node[rg, anchor=east] at (243.5,459.5) {23.623 ms};
  \node[rg, anchor=east] at (337.5,459.5) {-58.98 dB};

  % marker peak list (1.6 s sweep)
  \draw[gray!45, line width=0.6bp, rounded corners=2bp] (682.5,315.5) rectangle (1260.5,468.5);
  \draw[framecol, line width=1.6bp] (681.5,469.2) -- (1261.5,469.2);
  \node[bl, anchor=west] at (684,322.7) {Marker Peak List};
  \draw[gray!45, line width=0.6bp] (683.8,330.7) rectangle (1238.6,465.3);
  \foreach \v in {355.1,367.3,379.6,391.8,404.1,416.3,428.6,440.8,453.1}{\draw[gray!30] (683.8,\v) -- (1238.6,\v);}
  \foreach \u in {720.6,839.2,957.9,1001.4,1119.6}{
    \draw[gray!30] (\u,342.8) -- (\u,465.3);
    \draw[gray!30!black, line width=0.7bp] (\u,331.3) -- (\u,342.5);}
  \draw[gray!30!black, line width=0.8bp] (683.8,342.8) -- (1238.6,342.8);
  \node[bl] at (702.2,336.7) {No};
  \node[bl] at (780,336.7) {X-value};
  \node[bl] at (898.5,336.7) {Y-value};
  \node[bl] at (979.6,336.7) {No};
  \node[bl] at (1060.5,336.7) {X-value};
  \node[bl] at (1179,336.7) {Y-value};
  \foreach \y/\na/\xa/\ya/\nb/\xb/\yb in {
    349.3/12/593.623188 ms/-18.295 dBm/32/1.071304 s/-26.913 dBm,
    361.5/13/619.130435 ms/-18.853 dBm/33/1.094493 s/-26.898 dBm,
    373.8/14/642.318841 ms/-3.916 dBm/34/1.120000 s/-26.866 dBm,
    386.0/15/667.826087 ms/-3.929 dBm/35/1.143188 s/-32.133 dBm,
    398.3/16/691.014493 ms/-4.269 dBm/36/1.166377 s/-32.988 dBm,
    410.5/17/716.521739 ms/-5.802 dBm/37/1.191884 s/-32.728 dBm,
    422.8/18/737.391304 ms/18.718 dBm/38/1.215072 s/-32.859 dBm,
    435.0/19/760.579710 ms/18.730 dBm/39/1.238261 s/-32.761 dBm,
    447.3/20/786.086957 ms/18.723 dBm/40/{-}{-}{-}/{-}{-}{-}}{
    \node[rg, anchor=east] at (716.7,\y) {\na};
    \node[rg, anchor=east] at (832.5,\y) {\xa};
    \node[rg, anchor=east] at (951,\y) {\ya};
    \node[rg, anchor=east] at (996.5,\y) {\nb};
    \node[rg, anchor=east] at (1115,\y) {\xb};
    \node[rg, anchor=east] at (1232,\y) {\yb};}
  % scroll bar
  \draw[gray!50, line width=0.6bp] (1242.5,330.7) rectangle (1258.5,465.3);
  \draw[gray!55, rounded corners=1bp, fill=gray!5] (1243.3,331.5) rectangle (1257.7,345.5);
  \fill[black] (1248.5,340.5) -- (1252.5,340.5) -- (1250.5,337) -- cycle;
  \fill[gray!45!black] (1243.5,347) rectangle (1257.5,393);
  \draw[gray!55, line width=0.7bp] (1246,410.5) -- (1255,410.5) (1246,412.7) -- (1255,412.7);
  \fill[gray!45!black] (1243.5,433) rectangle (1257.5,449);
  \draw[gray!55, rounded corners=1bp, fill=gray!5] (1243.3,450.8) rectangle (1257.7,464.6);
  \fill[black] (1248.5,456) -- (1252.5,456) -- (1250.5,459.5) -- cycle;

  % status lines
  \statusbar
  \begin{scope}[xshift=643bp]\statusbar\end{scope}
  \begin{scope}[shift={(-22.2bp,-497.6bp)}, scale=1.063, every node/.append style={transform shape}]\statusbar\end{scope}
\end{scope}
\end{tikzpicture}
\end{document}
